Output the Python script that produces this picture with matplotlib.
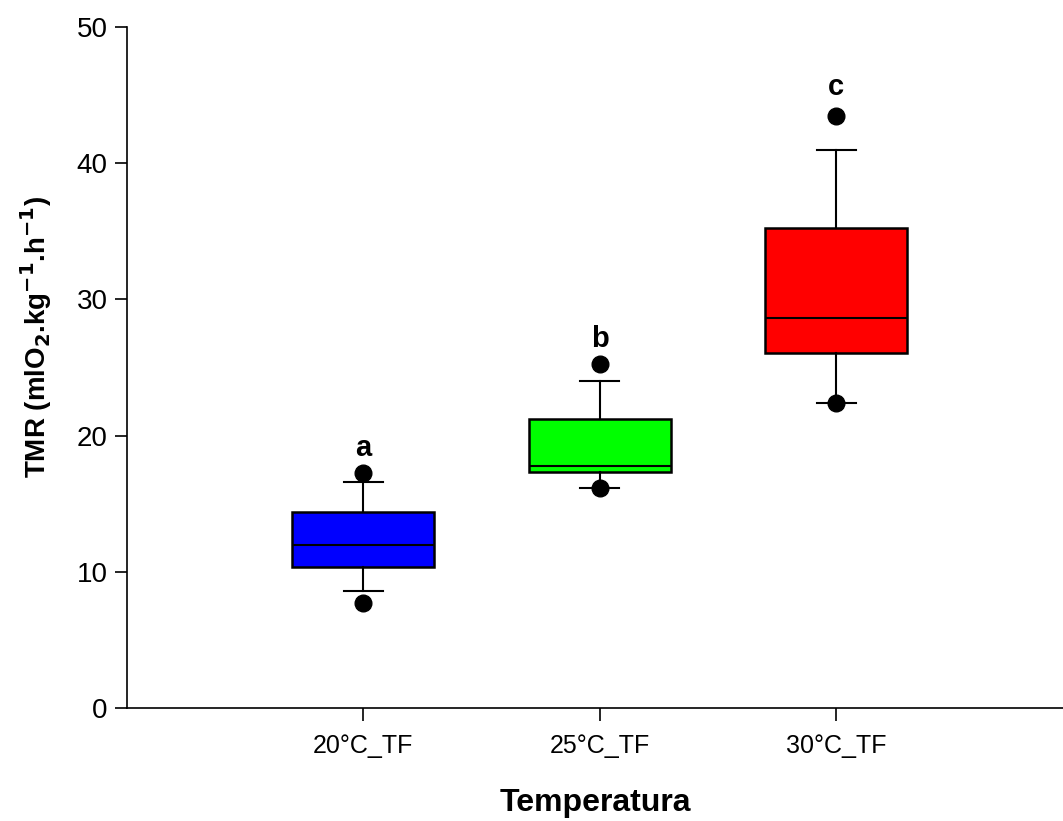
import matplotlib
matplotlib.use("Agg")
import matplotlib.pyplot as plt

categories = ["20°C_TF", "25°C_TF", "30°C_TF"]
q1 = [10.35, 17.33, 26.06]
median = [11.95, 17.77, 28.63]
q3 = [14.39, 21.2, 35.24]
whislo = [8.6, 16.15, 22.39]
whishi = [16.6, 24.0, 40.97]
outliers = [[17.25, 7.7], [25.26, 16.15], [43.46, 22.39]]
letters = ["a", "b", "c"]
letter_y = [19.1, 27.1, 45.6]
colors = ["#0000ff", "#00ff00", "#ff0000"]

plt.rcParams['font.family'] = ['Liberation Sans', 'DejaVu Sans']
fig = plt.figure(figsize=(10.63, 8.21), dpi=100)
ax = fig.add_axes([0.1195, 0.1376, 0.8805, 0.8295])

stats = []
for i in range(3):
    stats.append(dict(med=median[i], q1=q1[i], q3=q3[i], whislo=whislo[i],
                      whishi=whishi[i], fliers=outliers[i], label=categories[i]))
pos = [1, 2, 3]
bp = ax.bxp(stats, positions=pos, widths=0.6, patch_artist=True,
            boxprops=dict(linewidth=1.8, edgecolor='black'),
            medianprops=dict(color='black', linewidth=1.5),
            whiskerprops=dict(color='black', linewidth=1.5),
            capprops=dict(color='black', linewidth=1.5),
            flierprops=dict(marker='o', markerfacecolor='black', markeredgecolor='black', markersize=12),
            capwidths=0.165)
for patch, c in zip(bp['boxes'], colors):
    patch.set_facecolor(c)

for x, l, y in zip(pos, letters, letter_y):
    ax.text(x, y, l, ha='center', va='center', fontsize=21, fontweight='bold')

ax.set_xlim(0, 3.96)
ax.set_ylim(0, 50)
ax.set_yticks([0, 10, 20, 30, 40, 50])
ax.set_xticks(pos)
ax.set_xticklabels(categories, fontsize=18)
ax.tick_params(axis='y', labelsize=20, direction='out', length=9, width=1.2, pad=5)
ax.tick_params(axis='x', direction='out', length=9, width=1.2, pad=10)
ax.spines['top'].set_visible(False)
ax.spines['right'].set_visible(False)
ax.spines['left'].set_linewidth(1.2)
ax.spines['bottom'].set_linewidth(1.2)
ax.set_ylabel(r"TMR (mlO$_\mathbf{2}$.kg$^\mathbf{-1}$.h$^\mathbf{-1}$)", fontsize=20, fontweight='bold')
ax.yaxis.set_label_coords(-0.078, 0.545)
ax.set_xlabel("Temperatura", fontsize=23, fontweight='bold', labelpad=21)

fig.savefig("out.png", dpi=100)
